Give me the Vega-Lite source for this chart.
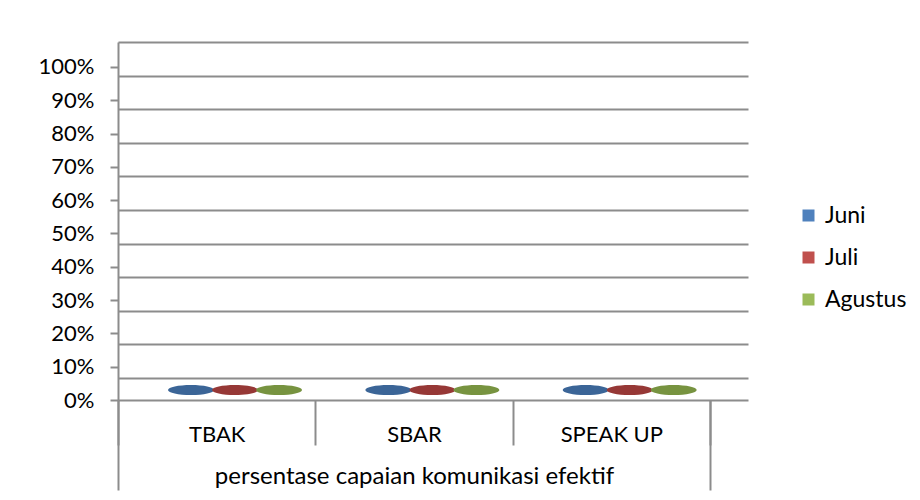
{
  "$schema": "https://vega.github.io/schema/vega-lite/v6.json",
  "autosize": "none",
  "width": 630,
  "height": 358,
  "padding": {"left": 118, "top": 42, "right": 172, "bottom": 100},
  "background": "white",
  "config": {
    "font": "Lato",
    "view": {"stroke": null},
    "axis": {"labelFont": "Lato", "labelColor": "#000000", "labelFontSize": 22}
  },
  "data": {
    "values": [
      {"kategori": "TBAK", "bulan": "Juni", "nilai": 0, "kelompok": "persentase capaian komunikasi efektif"},
      {"kategori": "TBAK", "bulan": "Juli", "nilai": 0, "kelompok": "persentase capaian komunikasi efektif"},
      {"kategori": "TBAK", "bulan": "Agustus", "nilai": 0, "kelompok": "persentase capaian komunikasi efektif"},
      {"kategori": "SBAR", "bulan": "Juni", "nilai": 0, "kelompok": "persentase capaian komunikasi efektif"},
      {"kategori": "SBAR", "bulan": "Juli", "nilai": 0, "kelompok": "persentase capaian komunikasi efektif"},
      {"kategori": "SBAR", "bulan": "Agustus", "nilai": 0, "kelompok": "persentase capaian komunikasi efektif"},
      {"kategori": "SPEAK UP", "bulan": "Juni", "nilai": 0, "kelompok": "persentase capaian komunikasi efektif"},
      {"kategori": "SPEAK UP", "bulan": "Juli", "nilai": 0, "kelompok": "persentase capaian komunikasi efektif"},
      {"kategori": "SPEAK UP", "bulan": "Agustus", "nilai": 0, "kelompok": "persentase capaian komunikasi efektif"}
    ]
  },
  "layer": [
    {
      "mark": {"type": "point", "filled": true, "opacity": 1, "size": 0},
      "encoding": {
        "x": {
          "field": "kelompok", "type": "nominal",
          "scale": {"paddingInner": 0, "paddingOuter": 0.0321, "align": 0},
          "axis": {
            "orient": "bottom", "title": null, "tickBand": "extent", "tickSize": 90,
            "tickColor": "#8c8c8c", "tickWidth": 2, "domain": false,
            "labelPadding": -14, "labelBaseline": "middle", "labelAngle": 0,
            "labelFontSize": 24, "labelLimit": 1000
          }
        },
        "y": {
          "field": "nilai", "type": "quantitative",
          "scale": {"domain": [-0.0655, 1.0], "nice": false, "zero": false},
          "axis": {
            "orient": "left", "title": null, "labels": false, "ticks": false, "domain": false,
            "grid": true, "gridColor": "#8c8c8c", "gridWidth": 2,
            "values": [0, 0.1, 0.2, 0.3, 0.4, 0.5, 0.6, 0.7, 0.8, 0.9, 1.0]
          }
        },
        "color": {
          "field": "bulan", "type": "nominal",
          "sort": ["Juni", "Juli", "Agustus"],
          "scale": {"domain": ["Juni", "Juli", "Agustus"], "range": ["#4F81BD", "#C0504D", "#9BBB59"]},
          "legend": {
            "title": null, "orient": "none", "legendX": 679, "legendY": 162, "padding": 0,
            "symbolType": "square", "symbolSize": 144, "symbolOpacity": 1, "symbolStrokeWidth": 0,
            "labelFont": "Lato", "labelFontSize": 23, "labelColor": "#000000", "labelOffset": 5,
            "rowPadding": 18
          }
        }
      }
    },
    {
      "encoding": {
        "x": {
          "field": "kategori", "type": "nominal",
          "sort": ["TBAK", "SBAR", "SPEAK UP"],
          "scale": {"paddingInner": 0, "paddingOuter": 0.0963, "align": 0},
          "axis": {
            "orient": "bottom", "title": null, "tickBand": "extent", "tickSize": 45,
            "tickColor": "#8c8c8c", "tickWidth": 2, "domain": true, "domainColor": "#8c8c8c", "domainWidth": 2,
            "labelPadding": -11, "labelBaseline": "middle", "labelAngle": 0, "labelFontSize": 22
          }
        },
        "y": {
          "field": "nilai", "type": "quantitative",
          "scale": {"domain": [0, 1.075], "nice": false, "zero": true},
          "axis": {
            "orient": "left", "title": null, "grid": false, "format": ".0%",
            "values": [0, 0.1, 0.2, 0.3, 0.4, 0.5, 0.6, 0.7, 0.8, 0.9, 1.0],
            "tickSize": 8, "tickColor": "#8c8c8c", "tickWidth": 2,
            "domainColor": "#8c8c8c", "domainWidth": 2,
            "labelPadding": 16, "labelFontSize": 22
          }
        },
        "fill": {
          "field": "bulan", "type": "nominal",
          "scale": {"domain": ["Juni", "Juli", "Agustus"], "range": ["#3B6597", "#963836", "#779340"]},
          "legend": null
        }
      },
      "layer": [
        {
          "transform": [{"filter": "datum.bulan === 'Juni'"}],
          "mark": {
            "type": "point", "filled": true, "opacity": 1, "size": 2116,
            "shape": "M -1 -0.435 A 1 0.22 0 1 0 1 -0.435 A 1 0.22 0 1 0 -1 -0.435 Z"
          },
          "encoding": {
            "x": {"field": "kategori", "type": "nominal", "sort": ["TBAK", "SBAR", "SPEAK UP"], "bandPosition": 0.37}
          }
        },
        {
          "transform": [{"filter": "datum.bulan === 'Juli'"}],
          "mark": {
            "type": "point", "filled": true, "opacity": 1, "size": 2116,
            "shape": "M -1 -0.435 A 1 0.22 0 1 0 1 -0.435 A 1 0.22 0 1 0 -1 -0.435 Z"
          },
          "encoding": {
            "x": {"field": "kategori", "type": "nominal", "sort": ["TBAK", "SBAR", "SPEAK UP"], "bandPosition": 0.593}
          }
        },
        {
          "transform": [{"filter": "datum.bulan === 'Agustus'"}],
          "mark": {
            "type": "point", "filled": true, "opacity": 1, "size": 2116,
            "shape": "M -1 -0.435 A 1 0.22 0 1 0 1 -0.435 A 1 0.22 0 1 0 -1 -0.435 Z"
          },
          "encoding": {
            "x": {"field": "kategori", "type": "nominal", "sort": ["TBAK", "SBAR", "SPEAK UP"], "bandPosition": 0.816}
          }
        }
      ]
    }
  ],
  "resolve": {
    "scale": {"x": "independent", "y": "independent"},
    "axis": {"x": "independent", "y": "independent"}
  }
}
